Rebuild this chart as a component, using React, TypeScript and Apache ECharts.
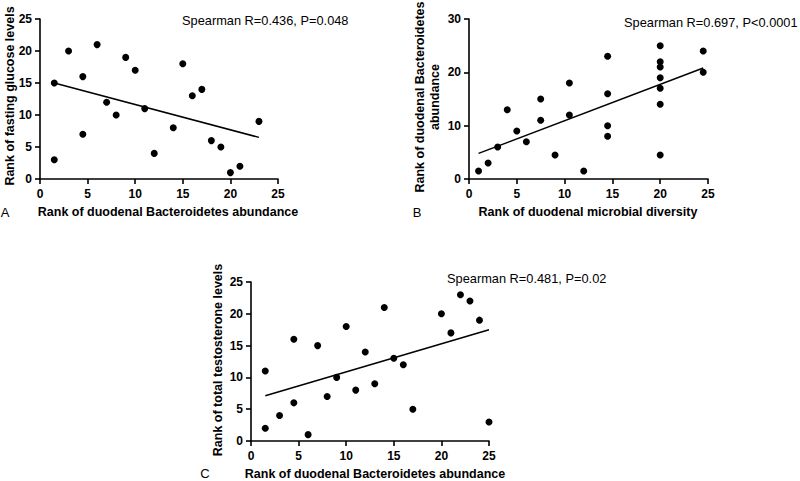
import React, { useEffect, useRef } from "react";
import * as echarts from "echarts";

// Panel A: Bacteroidetes abundance rank vs fasting glucose rank
const aX = [1.5, 1.5, 3, 4.5, 4.5, 6, 7, 8, 9, 10, 11, 12, 14, 15, 16, 17, 18, 19, 20, 21, 23];
const aY = [15, 3, 20, 16, 7, 21, 12, 10, 19, 17, 11, 4, 8, 18, 13, 14, 6, 5, 1, 2, 9];
const aFit = [[1.5, 15.0], [23, 6.5]];

// Panel B: microbial diversity rank vs Bacteroidetes abundance rank
const bX = [1, 2, 3, 4, 5, 6, 7.5, 7.5, 9, 10.5, 10.5, 12, 14.5, 14.5, 14.5, 14.5, 20, 20, 20, 20, 20, 20, 20, 24.5, 24.5];
const bY = [1.5, 3, 6, 13, 9, 7, 15, 11, 4.5, 18, 12, 1.5, 23, 16, 10, 8, 25, 22, 21, 19, 17, 14, 4.5, 24, 20];
const bFit = [[1, 4.8], [24.5, 20.8]];

// Panel C: Bacteroidetes abundance rank vs total testosterone rank
const cX = [1.5, 1.5, 3, 4.5, 4.5, 6, 7, 8, 9, 10, 11, 12, 13, 14, 15, 16, 17, 20, 21, 22, 23, 24, 25];
const cY = [11, 2, 4, 16, 6, 1, 15, 7, 10, 18, 8, 14, 9, 21, 13, 12, 5, 20, 17, 23, 22, 19, 3];
const cFit = [[1.5, 7.1], [25, 17.5]];

const xTicks = [0, 5, 10, 15, 20, 25];
const statA = "Spearman R=0.436, P=0.048";
const statB = "Spearman R=0.697, P<0.0001";
const statC = "Spearman R=0.481, P=0.02";

const FONT = "'Liberation Sans', Arial, sans-serif";

function zip(xs: number[], ys: number[]) {
  return xs.map((x, i) => [x, ys[i]]);
}

export default function App() {
  const ref = useRef<HTMLDivElement>(null);
  useEffect(() => {
    if (!ref.current) return;
    const chart = echarts.init(ref.current, undefined, { renderer: "svg" });
    const axisCommon = {
      axisLine: { lineStyle: { color: "#000", width: 1.6 } },
      axisTick: { show: true, length: 5, inside: false, lineStyle: { color: "#000", width: 1.6 } },
      splitLine: { show: false },
      axisLabel: { color: "#000", fontWeight: "bold" as const, fontSize: 12, fontFamily: FONT, margin: 8 },
    };
    const xAx = (gi: number) => ({
      type: "value" as const,
      gridIndex: gi,
      min: xTicks[0],
      max: xTicks[xTicks.length - 1],
      interval: 5,
      ...axisCommon,
      axisLabel: { ...axisCommon.axisLabel, margin: 9 },
    });
    const yAx = (gi: number, max: number, interval: number) => ({
      type: "value" as const,
      gridIndex: gi,
      min: 0,
      max,
      interval,
      ...axisCommon,
    });
    const scatter = (gi: number, data: number[][]) => ({
      type: "scatter" as const,
      xAxisIndex: gi,
      yAxisIndex: gi,
      data,
      symbol: "circle",
      symbolSize: 7,
      clip: false,
      itemStyle: { color: "#000", opacity: 1 },
    });
    const fit = (gi: number, data: number[][]) => ({
      type: "line" as const,
      xAxisIndex: gi,
      yAxisIndex: gi,
      data,
      symbol: "none",
      lineStyle: { color: "#000", width: 1.5 },
    });
    const titleStyle = { fill: "#000", font: `bold 12.5px ${FONT}` };
    const plainStyle = { fill: "#000", font: `12.8px ${FONT}` };
    const letterStyle = { fill: "#000", font: `13px ${FONT}` };
    const txt = (x: number, y: number, text: string, style: any, rot = 0, align = "center") => ({
      type: "text" as const,
      x,
      y,
      rotation: rot,
      style: { text, ...style, textAlign: align, textVerticalAlign: "middle", lineHeight: 15 },
    });
    chart.setOption({
      animation: false,
      backgroundColor: "#fff",
      grid: [
        { left: 40, top: 19, width: 238, height: 160 },
        { left: 469, top: 19, width: 239, height: 160 },
        { left: 251, top: 282, width: 238, height: 159 },
      ],
      xAxis: [xAx(0), xAx(1), xAx(2)],
      yAxis: [yAx(0, 25, 5), yAx(1, 30, 10), yAx(2, 25, 5)],
      series: [
        scatter(0, zip(aX, aY)),
        fit(0, aFit),
        scatter(1, zip(bX, bY)),
        fit(1, bFit),
        scatter(2, zip(cX, cY)),
        fit(2, cFit),
      ],
      graphic: [
        txt(168, 212, "Rank of duodenal Bacteroidetes abundance", titleStyle),
        txt(5, 212, "A", letterStyle),
        txt(10, 96, "Rank of fasting glucose levels", titleStyle, Math.PI / 2),
        txt(182, 20, statA, plainStyle, 0, "left"),

        txt(588, 212, "Rank of duodenal microbial diversity", titleStyle),
        txt(417, 212, "B", letterStyle),
        txt(427, 97, "Rank of duodenal Bacteroidetes\nabundance", titleStyle, Math.PI / 2),
        txt(624, 22, statB, plainStyle, 0, "left"),

        txt(375, 474, "Rank of duodenal Bacteroidetes abundance", titleStyle),
        txt(205, 473, "C", letterStyle),
        txt(218, 360, "Rank of total testosterone levels", titleStyle, Math.PI / 2),
        txt(447, 278, statC, plainStyle, 0, "left"),
      ],
    });
    return () => chart.dispose();
  }, []);
  return (
    <div
      ref={ref}
      style={{ position: "fixed", left: 0, top: 0, width: 800, height: 481, background: "#fff" }}
    />
  );
}
